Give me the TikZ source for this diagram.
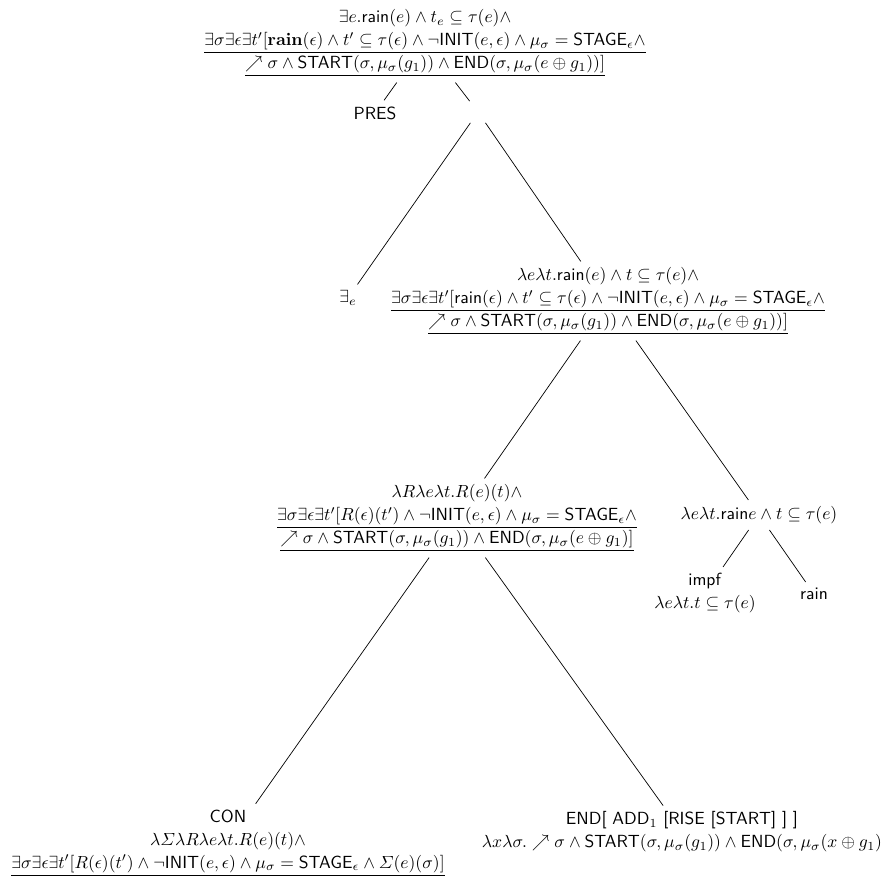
\documentclass[tikz,border=0pt]{standalone}
\usepackage{amsmath}
\usepackage{amssymb}
\newcommand{\fn}[1]{\textsf{#1}}

\begin{document}
\begin{tikzpicture}[x=0.02cm, y=-0.02cm,
    lbl/.style={align=center, font=\fontsize{10}{13}\selectfont},
    gap/.style={minimum width=12pt, minimum height=12pt}]
    \useasboundingbox (0,0) rectangle (888,881);

    % 根ノード
    \node[lbl] (top) at (425,43) {$\exists e.\fn{rain}(e)\wedge t_e\subseteq\tau(e)\wedge$\\
        $\underline{\exists\sigma\exists\epsilon\exists t'[\mathbf{rain}(\epsilon)\wedge t'\subseteq\tau(\epsilon)\wedge\neg\fn{INIT}(e,\epsilon)\wedge\mu_\sigma=\fn{STAGE}_\epsilon\wedge}$\\
        $\underline{\nearrow\sigma\wedge\fn{START}(\sigma,\mu_\sigma(g_1))\wedge\fn{END}(\sigma,\mu_\sigma(e\oplus g_1))]}$};
    \node[lbl] (pres) at (375,113) {\fn{PRES}};
    \node[gap] (junc) at (478,112) {};

    % 二段目
    \node[lbl] (exe) at (348,298) {$\exists_e$};
    \node[lbl] (mid) at (608,301) {$\lambda e\lambda t.\fn{rain}(e)\wedge t\subseteq\tau(e)\wedge$\\
        $\underline{\exists\sigma\exists\epsilon\exists t'[\fn{rain}(\epsilon)\wedge t'\subseteq\tau(\epsilon)\wedge\neg\fn{INIT}(e,\epsilon)\wedge\mu_\sigma=\fn{STAGE}_\epsilon\wedge}$\\
        $\underline{\nearrow\sigma\wedge\fn{START}(\sigma,\mu_\sigma(g_1))\wedge\fn{END}(\sigma,\mu_\sigma(e\oplus g_1))]}$};

    % 三段目
    \node[lbl] (lmid) at (457,518) {$\lambda R\lambda e\lambda t.R(e)(t)\wedge$\\
        $\underline{\exists\sigma\exists\epsilon\exists t'[R(\epsilon)(t')\wedge\neg\fn{INIT}(e,\epsilon)\wedge\mu_\sigma=\fn{STAGE}_\epsilon\wedge}$\\
        $\underline{\nearrow\sigma\wedge\fn{START}(\sigma,\mu_\sigma(g_1))\wedge\fn{END}(\sigma,\mu_\sigma(e\oplus g_1)]}$};
    \node[lbl] (rsm) at (759,515) {$\lambda e\lambda t.\fn{rain}e\wedge t\subseteq\tau(e)$};
    \node[lbl] (impf) at (705,593) {\fn{impf}\\ $\lambda e\lambda t.t\subseteq\tau(e)$};
    \node[lbl] (rainleaf) at (814,594) {\fn{rain}};

    % 葉
    \node[lbl] (con) at (228,843) {\fn{CON}\\ $\lambda\varSigma\lambda R\lambda e\lambda t.R(e)(t)\wedge$\\
        $\underline{\exists\sigma\exists\epsilon\exists t'[R(\epsilon)(t')\wedge\neg\fn{INIT}(e,\epsilon)\wedge\mu_\sigma=\fn{STAGE}_\epsilon\wedge\varSigma(e)(\sigma)]}$};
    \node[lbl] (endn) at (682,832) {\fn{END[ ADD}$_1$ \fn{[RISE [START] ] ]}\\
        $\lambda x\lambda\sigma.\nearrow\sigma\wedge\fn{START}(\sigma,\mu_\sigma(g_1))\wedge\fn{END}(\sigma,\mu_\sigma(x\oplus g_1)$};

    % 枝
    \draw (top) -- (pres);
    \draw (top) -- (junc);
    \draw (junc) -- (exe);
    \draw (junc) -- (mid);
    \draw (mid) -- (lmid);
    \draw (mid) -- (rsm);
    \draw (lmid) -- (con);
    \draw (lmid) -- (endn);
    \draw (rsm) -- (impf);
    \draw (rsm) -- (rainleaf);

\end{tikzpicture}
\end{document}
